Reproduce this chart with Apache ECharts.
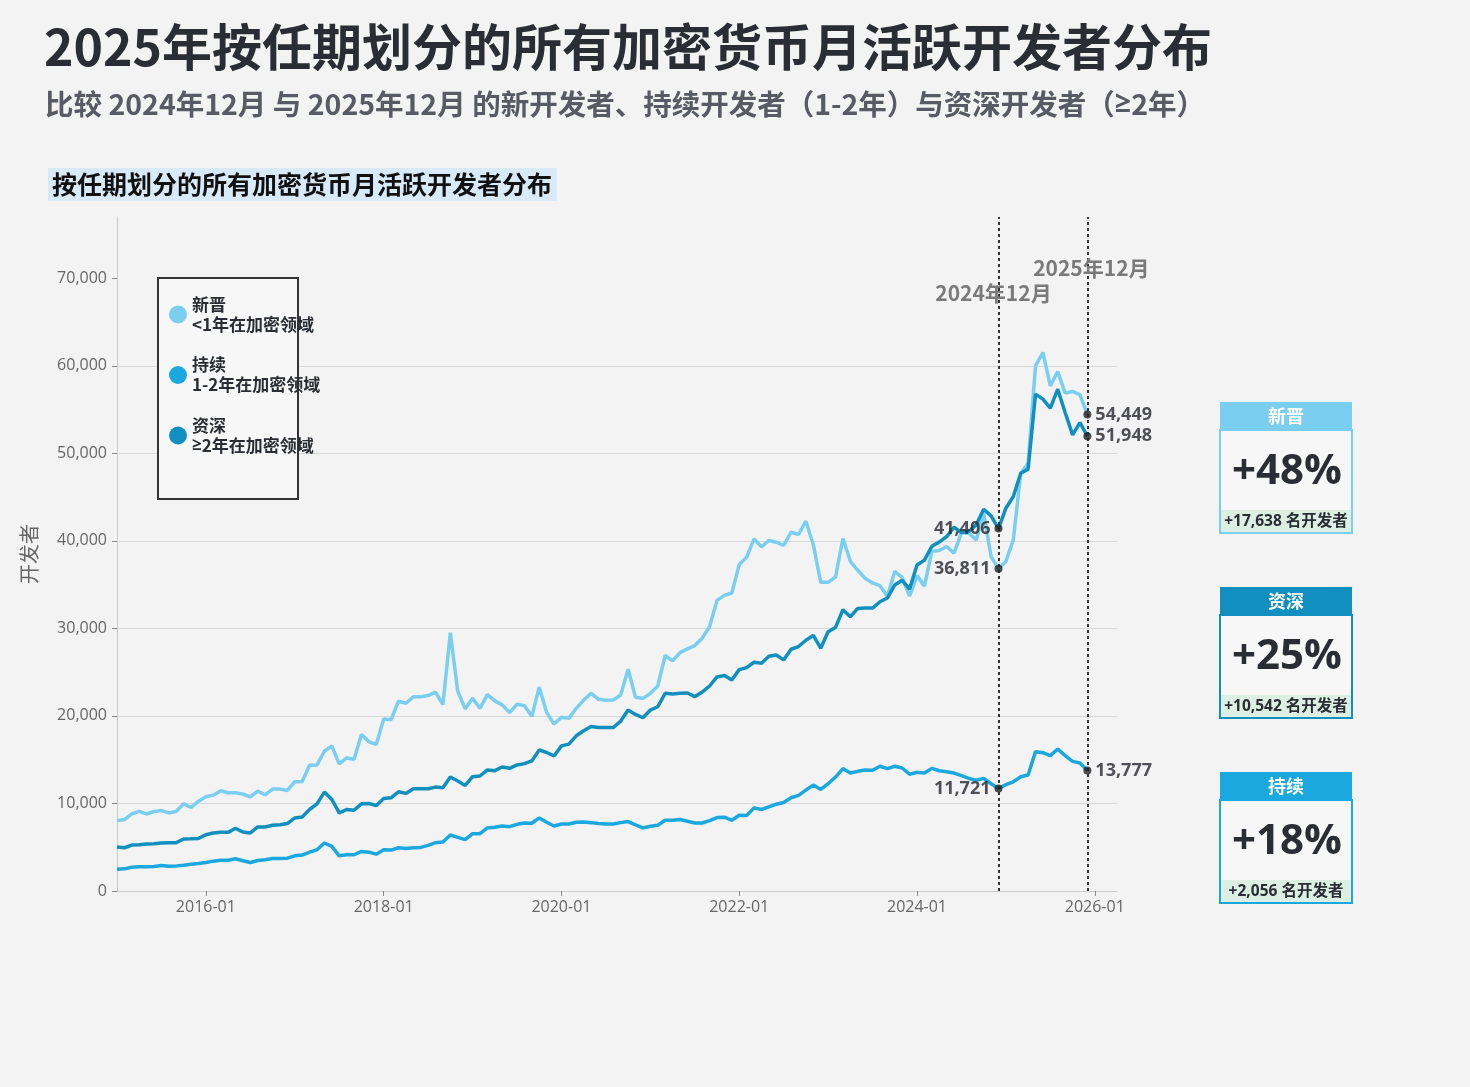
<!DOCTYPE html>
<html>
<head>
<meta charset="utf-8">
<script src="https://cdn.jsdelivr.net/npm/echarts@6/dist/echarts.min.js"></script>
<style>
  html, body { margin: 0; padding: 0; background: #f3f3f3; }
  #chart { width: 1470px; height: 1087px; }
</style>
</head>
<body>
<div id="chart"></div>
<script>
// month index 0 = 2015-01
var months = [];
for (var i = 0; i < 136; i++) {
  months.push((2015 + Math.floor(i / 12)) + '-' + String(i % 12 + 1).padStart(2, '0'));
}

var newcomers = [
  8040, 8160, 8800, 9100, 8800, 9080, 9190, 8920, 9100, 9960, 9540, 10260,
  10760, 10950, 11450, 11220, 11220, 11070, 10760, 11410, 10990, 11640, 11640, 11490,
  12490, 12520, 14360, 14400, 15970, 16580, 14520, 15200, 15050, 17890, 17040, 16740,
  19650, 19570, 21680, 21450, 22180, 22180, 22330, 22710, 21290, 29500, 22830, 20800,
  22020, 20870, 22440, 21720, 21260, 20380, 21330, 21180, 19950, 23290, 20410, 19070,
  19840, 19720, 20870, 21800, 22600, 21900, 21800, 21820, 22390, 25330, 22120, 22010,
  22580, 23420, 26900, 26290, 27240, 27660, 28040, 28880, 30220, 33200, 33770, 34040,
  37290, 38130, 40230, 39310, 40040, 39850, 39470, 40990, 40730, 42250, 39580, 35260,
  35260, 35870, 40270, 37670, 36640, 35720, 35190, 34880, 33660, 36520, 35800, 33690,
  36030, 34830, 38800, 38890, 39350, 38590, 40950, 40870, 40110, 43160, 38210, 36811,
  37640, 40110, 47730, 48870, 60000, 61520, 57710, 59350, 56880, 57070, 56690, 54449
];
var sustained = [
  2490, 2530, 2720, 2760, 2760, 2800, 2910, 2830, 2870, 2950, 3060, 3140,
  3260, 3410, 3520, 3520, 3680, 3450, 3260, 3490, 3560, 3720, 3720, 3750,
  4020, 4100, 4440, 4710, 5480, 5090, 4020, 4140, 4140, 4520, 4440, 4210,
  4710, 4670, 4940, 4860, 4940, 4980, 5210, 5520, 5590, 6400, 6130, 5860,
  6550, 6550, 7200, 7280, 7430, 7350, 7620, 7770, 7740, 8350, 7850, 7430,
  7660, 7660, 7850, 7870, 7810, 7700, 7660, 7660, 7810, 7930, 7550, 7200,
  7390, 7510, 8080, 8080, 8160, 7970, 7770, 7770, 8040, 8390, 8430, 8080,
  8660, 8620, 9500, 9310, 9610, 9920, 10110, 10650, 10920, 11530, 12100, 11600,
  12260, 13020, 13980, 13480, 13670, 13830, 13790, 14250, 13980, 14250, 14050, 13340,
  13570, 13470, 14010, 13740, 13630, 13470, 13170, 12860, 12670, 12860, 12250, 11721,
  12140, 12480, 13050, 13250, 15920, 15800, 15460, 16220, 15460, 14810, 14620, 13777
];
var veterans = [
  5020, 4940, 5250, 5290, 5360, 5400, 5480, 5520, 5520, 5940, 5970, 6010,
  6430, 6630, 6700, 6700, 7160, 6740, 6630, 7320, 7320, 7510, 7580, 7700,
  8350, 8460, 9310, 9960, 11300, 10460, 8920, 9310, 9230, 9960, 10000, 9770,
  10570, 10650, 11340, 11150, 11680, 11680, 11680, 11870, 11800, 13020, 12560, 12060,
  13060, 13140, 13830, 13750, 14170, 14020, 14400, 14550, 14860, 16120, 15820, 15430,
  16580, 16780, 17730, 18300, 18800, 18680, 18680, 18680, 19410, 20670, 20170, 19790,
  20670, 21050, 22580, 22500, 22580, 22620, 22200, 22730, 23420, 24450, 24610, 24110,
  25290, 25520, 26130, 26020, 26820, 26970, 26400, 27620, 27930, 28650, 29190, 27740,
  29610, 30110, 32130, 31330, 32280, 32320, 32320, 33050, 33470, 34960, 35500, 34500,
  37250, 37800, 39370, 39860, 40490, 41560, 40950, 41070, 41830, 43620, 42860, 41406,
  43730, 45070, 47730, 48190, 56760, 56190, 55160, 57330, 54670, 52110, 53520, 51948
];

var seriesNames = ['新晋', '持续', '资深'];
var seriesDesc = ['<1年在加密领域', '1-2年在加密领域', '≥2年在加密领域'];
var seriesColors = ['#7acff0', '#1ba8de', '#1190bf'];
var seriesValues = [newcomers, sustained, veterans];

var compareMonths = ['2024-12', '2025-12'];
var compareLabels = ['2024年12月', '2025年12月'];
var yTicks = [0, 10000, 20000, 30000, 40000, 50000, 60000, 70000];
var xTickLabels = ['2016-01', '2018-01', '2020-01', '2022-01', '2024-01', '2026-01'];
var cardOrder = ['新晋', '资深', '持续'];

var CJK = '"Noto Sans CJK SC", sans-serif';
var NUM = '"Open Sans", "Noto Sans CJK SC", sans-serif';
var DARK = '#2a2d34';

function fmt(v) { return v.toLocaleString('en-US'); }
// the CJK font draws ≥ slanted, so give that glyph a latin font
function geq(s, style) { return s.split('≥').join('}{g|≥}{' + style + '|'); }

var idxA = months.indexOf(compareMonths[0]);
var idxB = months.indexOf(compareMonths[1]);

var lineSeries = seriesNames.map(function (name, k) {
  var s = {
    name: name,
    type: 'line',
    data: seriesValues[k].map(function (v, i) { return [i, v]; }),
    showSymbol: false,
    symbol: 'none',
    color: seriesColors[k],
    lineStyle: { width: 3.5, color: seriesColors[k] },
    z: 3 + k
  };
  if (k === 0) {
    s.markLine = {
      silent: true,
      symbol: ['none', 'none'],
      label: { show: false },
      lineStyle: { type: [3, 3], color: '#333', width: 2 },
      data: [{ xAxis: idxA }, { xAxis: idxB }],
      z: 10
    };
  }
  return s;
});

var endPoints = [];
seriesNames.forEach(function (name, k) {
  var vals = seriesValues[k];
  endPoints.push({ value: [idxA, vals[idxA]], label: { position: 'left' } });
  endPoints.push({ value: [idxB, vals[idxB]], label: { position: 'right' } });
});

var chart = echarts.init(document.getElementById('chart'));

var cardGraphics = [];
cardOrder.forEach(function (name, c) {
  var k = seriesNames.indexOf(name);
  var vals = seriesValues[k];
  var diff = vals[idxB] - vals[idxA];
  var pct = Math.round(diff / vals[idxA] * 100);
  var top = 402 + c * 185;
  var col = seriesColors[k];
  cardGraphics.push(
    { type: 'rect', shape: { x: 1221, y: top + 28, width: 130, height: 103 }, style: { fill: '#f7f7f7' }, z: 5 },
    { type: 'rect', shape: { x: 1221, y: top + 108, width: 130, height: 23 }, style: { fill: '#dcefe2' }, z: 6 },
    { type: 'rect', shape: { x: 1220, y: top + 28, width: 132, height: 103 }, style: { fill: 'none', stroke: col, lineWidth: 2 }, z: 7 },
    { type: 'rect', shape: { x: 1220, y: top, width: 132, height: 28 }, style: { fill: col }, z: 8 },
    { type: 'text', x: 1286, y: top + 14, style: { text: name, fill: '#fff', font: 'bold 18px ' + CJK, align: 'center', verticalAlign: 'middle' }, z: 9 },
    { type: 'text', x: 1287, y: top + 70, style: { text: '+' + pct + '%', fill: DARK, font: 'bold 42px ' + NUM, align: 'center', verticalAlign: 'middle' }, z: 9 },
    { type: 'text', x: 1286, y: top + 119.5, style: { text: '+' + fmt(diff) + ' 名开发者', fill: DARK, font: 'bold 15.5px ' + NUM, align: 'center', verticalAlign: 'middle' }, z: 9 }
  );
});

var subText = '比较 2024年12月 与 2025年12月 的新开发者、持续开发者（1-2年）与资深开发者（≥2年）';

var option = {
  animation: false,
  backgroundColor: '#f3f3f3',
  title: [
    {
      text: '2025年按任期划分的所有加密货币月活跃开发者分布',
      left: 44, top: 19, padding: 0,
      textStyle: { fontFamily: CJK, fontWeight: 'bold', fontSize: 50, lineHeight: 56, color: DARK }
    },
    {
      text: '{s|' + geq(subText, 's') + '}',
      left: 45, top: 87, padding: 0,
      textStyle: {
        rich: {
          s: { fontFamily: CJK, fontWeight: 'bold', fontSize: 28.5, lineHeight: 34, color: '#585b63' },
          g: { fontFamily: NUM, fontWeight: 'bold', fontSize: 28.5, lineHeight: 34, color: '#585b63' }
        }
      }
    },
    {
      text: '按任期划分的所有加密货币月活跃开发者分布',
      left: 48, top: 168, padding: [4, 5, 4, 4],
      backgroundColor: '#d8eaf8',
      textStyle: { fontFamily: CJK, fontWeight: 'bold', fontSize: 25, lineHeight: 25, color: '#111' }
    }
  ],
  grid: { left: 117, right: 353, top: 217, bottom: 196 },
  legend: {
    data: seriesNames,
    orient: 'vertical',
    left: 169, top: 296,
    padding: 0,
    itemGap: 23.5,
    icon: 'circle',
    itemWidth: 18, itemHeight: 18,
    z: 20,
    selectedMode: false,
    formatter: function (name) {
      return '{a|' + name + '}\n{a|' + geq(seriesDesc[seriesNames.indexOf(name)], 'a') + '}';
    },
    textStyle: {
      rich: {
        a: { fontFamily: CJK, fontWeight: 'bold', fontSize: 17, lineHeight: 20, color: DARK },
        g: { fontFamily: NUM, fontWeight: 'bold', fontSize: 17, lineHeight: 20, color: DARK }
      }
    }
  },
  xAxis: {
    type: 'value',
    min: 0, max: 135,
    axisLine: { show: true, lineStyle: { color: '#cccccc', width: 1 } },
    axisTick: { show: true, length: 5, lineStyle: { color: '#888' }, customValues: xTickLabels.map(function (m) { return months.indexOf(m); }) },
    axisLabel: {
      customValues: xTickLabels.map(function (m) { return months.indexOf(m); }),
      formatter: function (v) { return months[Math.round(v)]; },
      color: '#666', fontFamily: NUM, fontSize: 16, margin: 8
    },
    splitLine: { show: false }
  },
  yAxis: {
    type: 'value',
    min: 0, max: 77000,
    interval: 10000,
    name: '开发者',
    nameLocation: 'middle',
    nameGap: 78,
    nameTextStyle: { fontFamily: CJK, fontSize: 20, color: '#666' },
    axisLine: { show: true, lineStyle: { color: '#cccccc', width: 1 } },
    axisTick: { show: true, length: 5, lineStyle: { color: '#888' }, customValues: yTicks },
    axisLabel: {
      customValues: yTicks,
      formatter: function (v) { return fmt(v); },
      color: '#666', fontFamily: NUM, fontSize: 16, margin: 10
    },
    splitLine: { show: true, showMaxLine: false, lineStyle: { color: '#d9d9d9', width: 1 } }
  },
  series: lineSeries.concat([{
    name: 'endpoints',
    type: 'scatter',
    data: endPoints,
    symbolSize: 8,
    itemStyle: { color: '#222' },
    z: 20,
    label: {
      show: true,
      distance: 4,
      formatter: function (p) { return fmt(p.value[1]); },
      fontFamily: NUM, fontWeight: 'bold', fontSize: 18, color: '#25272d'
    }
  }]),
  graphic: [
    { type: 'rect', shape: { x: 158, y: 278, width: 140, height: 221 }, style: { fill: '#f7f7f7', stroke: '#333', lineWidth: 2 }, z: 3 }
  ].concat(cardGraphics)
};

chart.setOption(option);

// date annotations above the dotted lines
var xa = chart.convertToPixel({ xAxisIndex: 0 }, idxA);
var xb = chart.convertToPixel({ xAxisIndex: 0 }, idxB);
chart.setOption({
  graphic: option.graphic.concat([
    { type: 'text', x: xa - 5, y: 293, style: { text: compareLabels[0], fill: '#7a7a7a', font: 'bold 21px ' + CJK, align: 'center', verticalAlign: 'middle' }, z: 12 },
    { type: 'text', x: xb + 4, y: 268, style: { text: compareLabels[1], fill: '#7a7a7a', font: 'bold 21px ' + CJK, align: 'center', verticalAlign: 'middle' }, z: 12 }
  ])
});
</script>
</body>
</html>
